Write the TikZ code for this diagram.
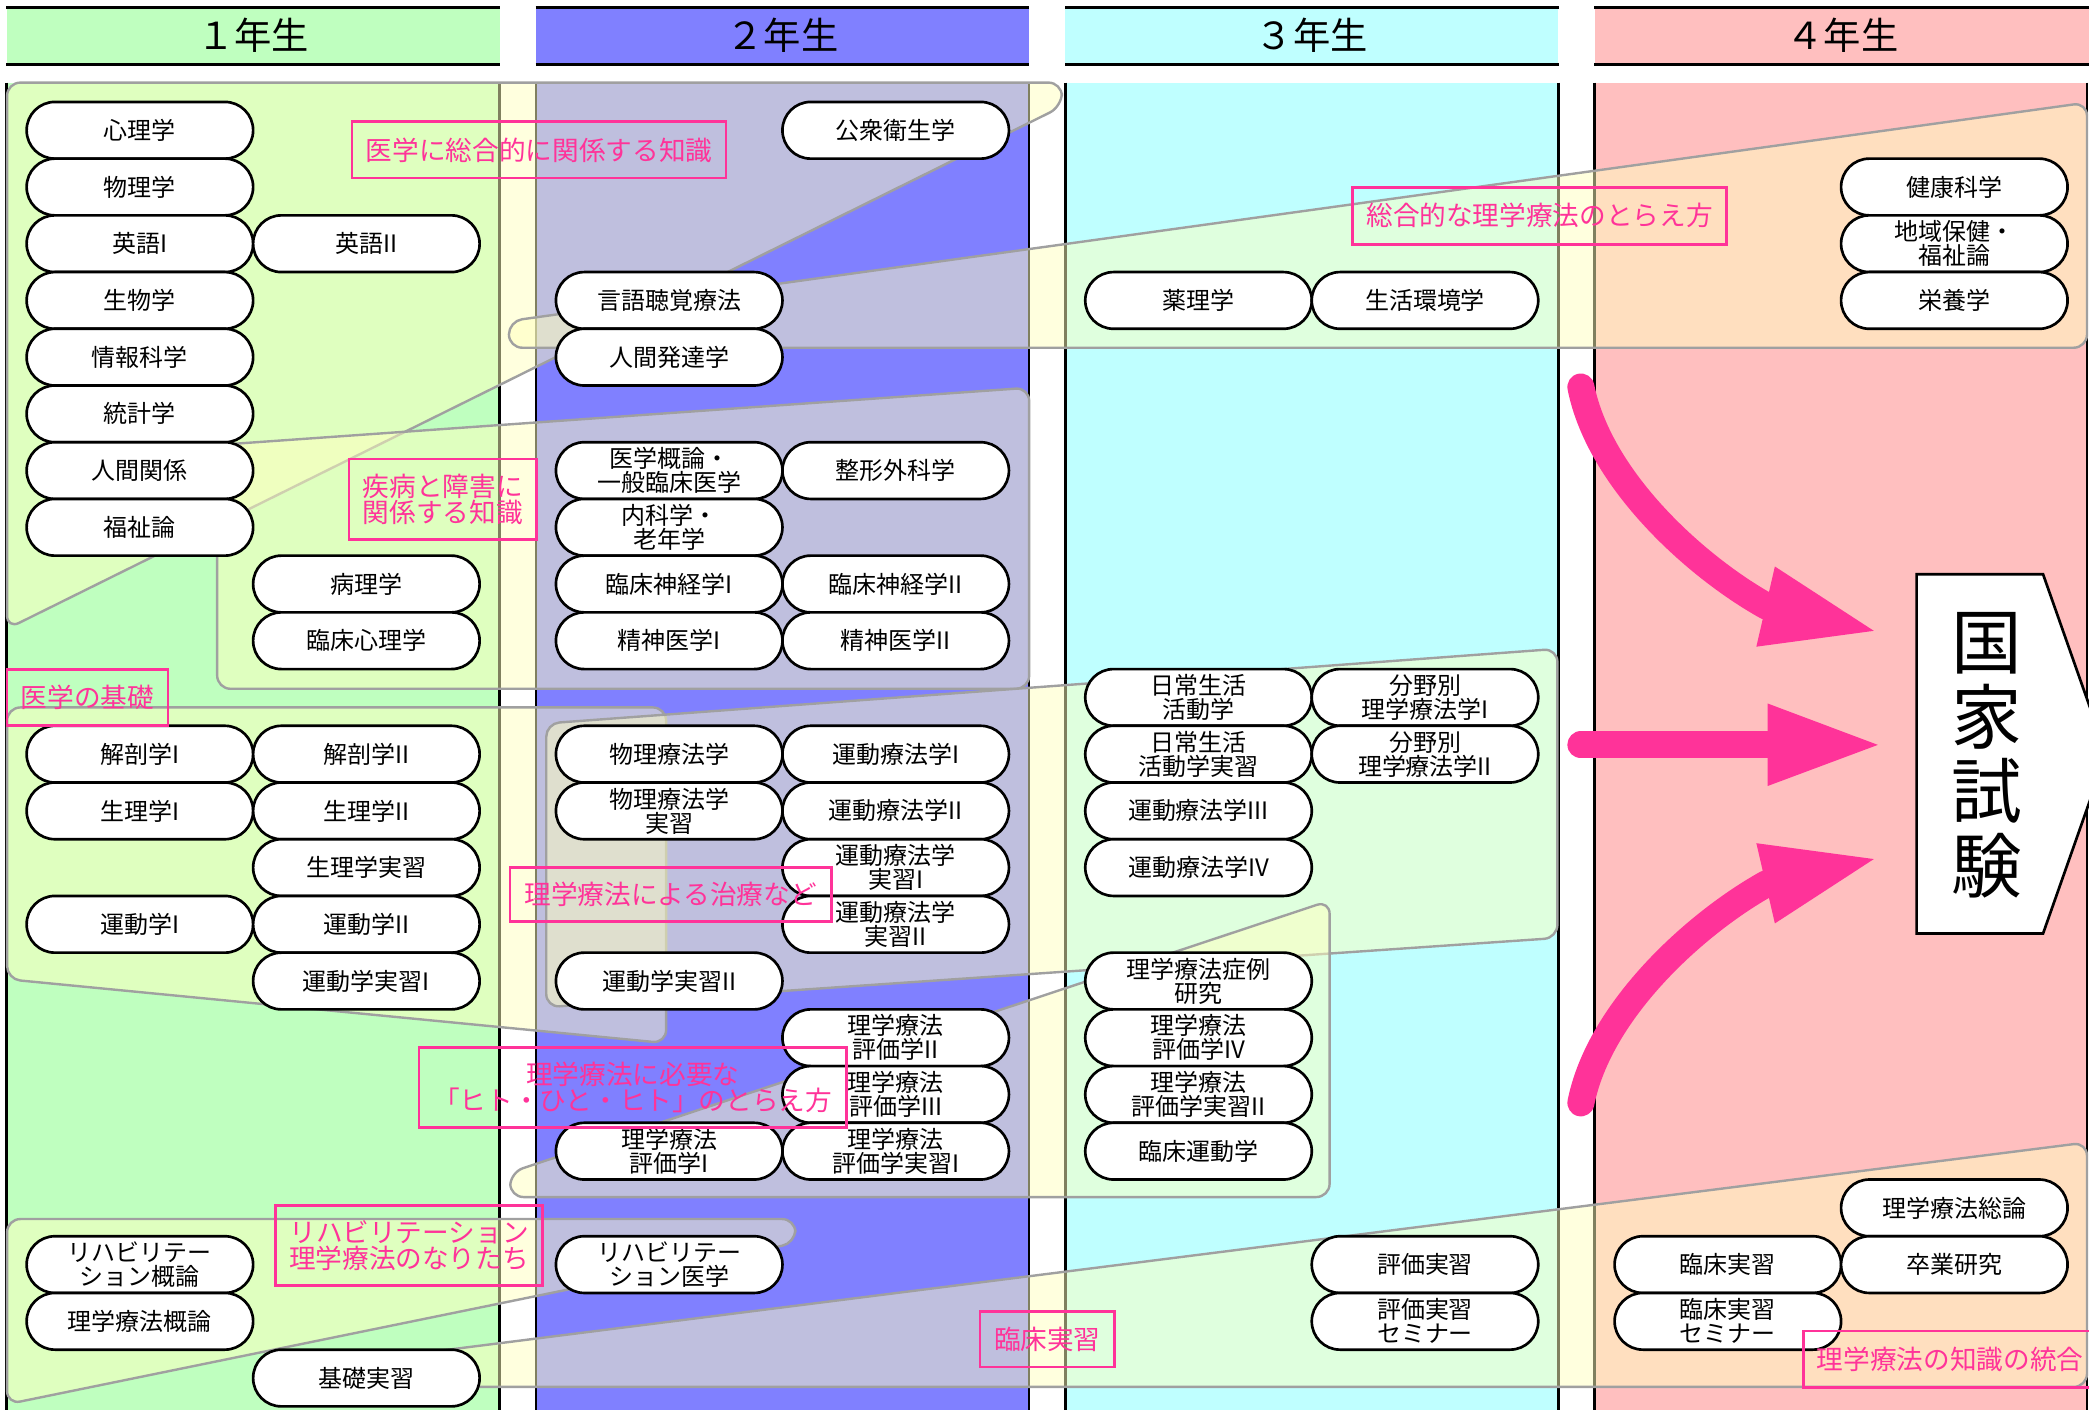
\documentclass[tikz,border=0pt]{standalone}
\usepackage{fontspec}
\setmainfont{Noto Sans CJK JP}
\definecolor{cA}{HTML}{BFFFBF}
\definecolor{cB}{HTML}{8080FF}
\definecolor{cC}{HTML}{BFFFFF}
\definecolor{cD}{HTML}{FFBFBF}
\definecolor{ovy}{HTML}{FFFFBF}
\definecolor{ovg}{HTML}{A0A0A0}
\definecolor{pk}{HTML}{FF3399}
\tikzset{
  subj/.style={draw=black, line width=2pt, fill=white, rounded corners=21.2pt,
    minimum width=170pt, minimum height=42.57pt, inner sep=0pt, align=center,
    font=\fontsize{18}{18}\selectfont},
  lbl/.style={draw=pk, line width=2pt, text=pk, align=center, inner sep=0pt,
    font=\fontsize{20}{20}\selectfont},
  ovl/.style={fill=ovy, fill opacity=0.5, draw=ovg, draw opacity=1, line width=1.8pt,
    rounded corners=10pt},
  hdrbox/.style={minimum width=370pt, minimum height=42.5pt, inner sep=0pt,
    font=\fontsize{28}{28}\selectfont},
  hline/.style={line width=2.2pt, draw=black},
  colline/.style={line width=2pt, draw=black},
  arr/.style={draw=pk, line width=20.3pt, line cap=round},
  arrhead/.style={fill=pk},
  exambox/.style={draw=black, line width=2pt, fill=white}
}
\newcommand{\sj}[4]{\node[subj] (#1) at (#2,97.79+42.57*#3) {#4};}
\begin{document}
\begin{tikzpicture}[x=1pt,y=-1pt]
\useasboundingbox (0,0) rectangle (1568,1057.6);
\fill[white] (0,0) rectangle (1568,1057.6);
% ---------- headers ----------
\node[hdrbox, fill=cA] (h1) at (190,26.75) {１年生};
\node[hdrbox, fill=cB] (h2) at (587.3,26.75) {２年生};
\node[hdrbox, fill=cC] (h3) at (984.6,26.75) {３年生};
\node[hdrbox, fill=cD, minimum width=372pt] (h4) at (1383,26.75) {４年生};
\foreach \h in {h1,h2,h3,h4}{
  \draw[hline] (\h.north west) -- (\h.north east);
  \draw[hline] (\h.south west) -- (\h.south east);
}
% ---------- column bodies ----------
\fill[cA] (5,62) rectangle (375,1060);
\fill[cB] (402.3,62) rectangle (772.3,1060);
\fill[cC] (799.6,62) rectangle (1169.6,1060);
\fill[cD] (1196.9,62) rectangle (1566.6,1060);
\foreach \xx in {5,375,402.3,772.3,799.6,1169.6,1196.9,1566.6}{
  \draw[colline] (\xx,62) -- (\xx,1060);
}
% ---------- translucent groups ----------
\draw[ovl] (5.3,62) -- (797,62) -- (797,80) -- (5.3,472) -- cycle;          % A
\draw[ovl] (163,334) -- (772.5,291) -- (772.5,517) -- (163,517) -- cycle;   % B
\draw[ovl] (5.3,531) -- (500,531) -- (500,783) -- (5.3,735) -- cycle;       % C
\draw[ovl] (410,543) -- (1169,487) -- (1169,704) -- (410,756) -- cycle;     % D
\draw[ovl] (383,880) -- (998,676) -- (998,898.5) -- (383,898.5) -- cycle;   % E
\draw[ovl] (382,241) -- (1566.5,77) -- (1566.5,261) -- (382,261) -- cycle;  % F
\draw[ovl] (5.3,915) -- (597,915) -- (597,933) -- (5.3,1054) -- cycle;      % G1
\draw[ovl] (250,1024) -- (1566.5,857.5) -- (1566.5,1041) -- (250,1041) -- cycle; % G2
% ---------- subjects: 1st year ----------
\sj{a0}{105}{0}{心理学}
\sj{a1}{105}{1}{物理学}
\sj{a2}{105}{2}{英語I}
\sj{a3}{105}{3}{生物学}
\sj{a4}{105}{4}{情報科学}
\sj{a5}{105}{5}{統計学}
\sj{a6}{105}{6}{人間関係}
\sj{a7}{105}{7}{福祉論}
\sj{a11}{105}{11}{解剖学I}
\sj{a12}{105}{12}{生理学I}
\sj{a14}{105}{14}{運動学I}
\sj{a20}{105}{20}{リハビリテー\\ション概論}
\sj{a21}{105}{21}{理学療法概論}
\sj{b2}{275}{2}{英語II}
\sj{b8}{275}{8}{病理学}
\sj{b9}{275}{9}{臨床心理学}
\sj{b11}{275}{11}{解剖学II}
\sj{b12}{275}{12}{生理学II}
\sj{b13}{275}{13}{生理学実習}
\sj{b14}{275}{14}{運動学II}
\sj{b15}{275}{15}{運動学実習I}
\sj{b22}{275}{22}{基礎実習}
% ---------- 2nd year ----------
\sj{c3}{502.3}{3}{言語聴覚療法}
\sj{c4}{502.3}{4}{人間発達学}
\sj{c6}{502.3}{6}{医学概論・\\一般臨床医学}
\sj{c7}{502.3}{7}{内科学・\\老年学}
\sj{c8}{502.3}{8}{臨床神経学I}
\sj{c9}{502.3}{9}{精神医学I}
\sj{c11}{502.3}{11}{物理療法学}
\sj{c12}{502.3}{12}{物理療法学\\実習}
\sj{c15}{502.3}{15}{運動学実習II}
\sj{c18}{502.3}{18}{理学療法\\評価学I}
\sj{c20}{502.3}{20}{リハビリテー\\ション医学}
\sj{d0}{672.3}{0}{公衆衛生学}
\sj{d6}{672.3}{6}{整形外科学}
\sj{d8}{672.3}{8}{臨床神経学II}
\sj{d9}{672.3}{9}{精神医学II}
\sj{d11}{672.3}{11}{運動療法学I}
\sj{d12}{672.3}{12}{運動療法学II}
\sj{d13}{672.3}{13}{運動療法学\\実習I}
\sj{d14}{672.3}{14}{運動療法学\\実習II}
\sj{d16}{672.3}{16}{理学療法\\評価学II}
\sj{d17}{672.3}{17}{理学療法\\評価学III}
\sj{d18}{672.3}{18}{理学療法\\評価学実習I}
% ---------- 3rd year ----------
\sj{e3}{899.6}{3}{薬理学}
\sj{e10}{899.6}{10}{日常生活\\活動学}
\sj{e11}{899.6}{11}{日常生活\\活動学実習}
\sj{e12}{899.6}{12}{運動療法学III}
\sj{e13}{899.6}{13}{運動療法学IV}
\sj{e15}{899.6}{15}{理学療法症例\\研究}
\sj{e16}{899.6}{16}{理学療法\\評価学IV}
\sj{e17}{899.6}{17}{理学療法\\評価学実習II}
\sj{e18}{899.6}{18}{臨床運動学}
\sj{f3}{1069.6}{3}{生活環境学}
\sj{f10}{1069.6}{10}{分野別\\理学療法学I}
\sj{f11}{1069.6}{11}{分野別\\理学療法学II}
\sj{f20}{1069.6}{20}{評価実習}
\sj{f21}{1069.6}{21}{評価実習\\セミナー}
% ---------- 4th year ----------
\sj{g20}{1296.9}{20}{臨床実習}
\sj{g21}{1296.9}{21}{臨床実習\\セミナー}
\sj{h1s}{1466.9}{1}{健康科学}
\sj{h2s}{1466.9}{2}{地域保健・\\福祉論}
\sj{h3s}{1466.9}{3}{栄養学}
\sj{h19}{1466.9}{19}{理学療法総論}
\sj{h20}{1466.9}{20}{卒業研究}
% ---------- group labels ----------
\node[lbl, minimum width=280.7pt, minimum height=42.4pt] (L1) at (404.65,112.5) {医学に総合的に関係する知識};
\node[lbl, minimum width=140.8pt, minimum height=60.4pt] (L2) at (332.4,374.8) {疾病と障害に\\関係する知識};
\node[lbl, minimum width=120.7pt, minimum height=42.2pt] (L3) at (65.65,523.5) {医学の基礎};
\node[lbl, minimum width=280.4pt, minimum height=42.8pt] (L4) at (1155.6,162) {総合的な理学療法のとらえ方};
\node[lbl, minimum width=241.2pt, minimum height=40.8pt] (L5) at (503.4,671.4) {理学療法による治療など};
\node[lbl, minimum width=321.1pt, minimum height=60.4pt] (L6) at (474.95,816.2) {理学療法に必要な\\「ヒト・ひと・ヒト」のとらえ方};
\node[lbl, minimum width=200pt, minimum height=60.3pt] (L7) at (307,934.85) {リハビリテーション\\理学療法のなりたち};
\node[lbl, minimum width=101pt, minimum height=41.8pt] (L8) at (786.1,1005.1) {臨床実習};
\node[lbl, minimum width=220pt, minimum height=42.5pt] (L9) at (1463.7,1020.25) {理学療法の知識の統合};
% ---------- national exam ----------
\draw[exambox] (1438.6,431) -- (1533.5,431) -- (1581,565.85) -- (1533.5,700.7) -- (1438.6,700.7) -- cycle;
\node[inner sep=0pt, align=center, font=\fontsize{53}{56}\selectfont] (exam) at (1491,566.8) {国\\家\\試\\験};
% ---------- arrows ----------
\coordinate (a1s) at (1186.6,290.5);
\coordinate (a1e) at (1326,455);
\coordinate (a2s) at (1186.6,559.1);
\coordinate (a2e) at (1330,559.1);
\coordinate (a3s) at (1186.6,827.8);
\coordinate (a3e) at (1326,663.3);
\draw[arr] (a1s) .. controls (1200.6,360.5) and (1273.6,425.8) .. (a1e);
\fill[arrhead] (1332.2,425.2) -- (1406.5,473.5) -- (1318.3,485.4) -- cycle;
\draw[arr] (a2s) -- (a2e);
\fill[arrhead] (1326.7,528) -- (1409.5,559.1) -- (1326.7,590) -- cycle;
\draw[arr] (a3s) .. controls (1200.6,757.8) and (1273.6,692.5) .. (a3e);
\fill[arrhead] (1332.2,693.1) -- (1406.5,644.8) -- (1318.3,632.9) -- cycle;
\end{tikzpicture}
\end{document}
